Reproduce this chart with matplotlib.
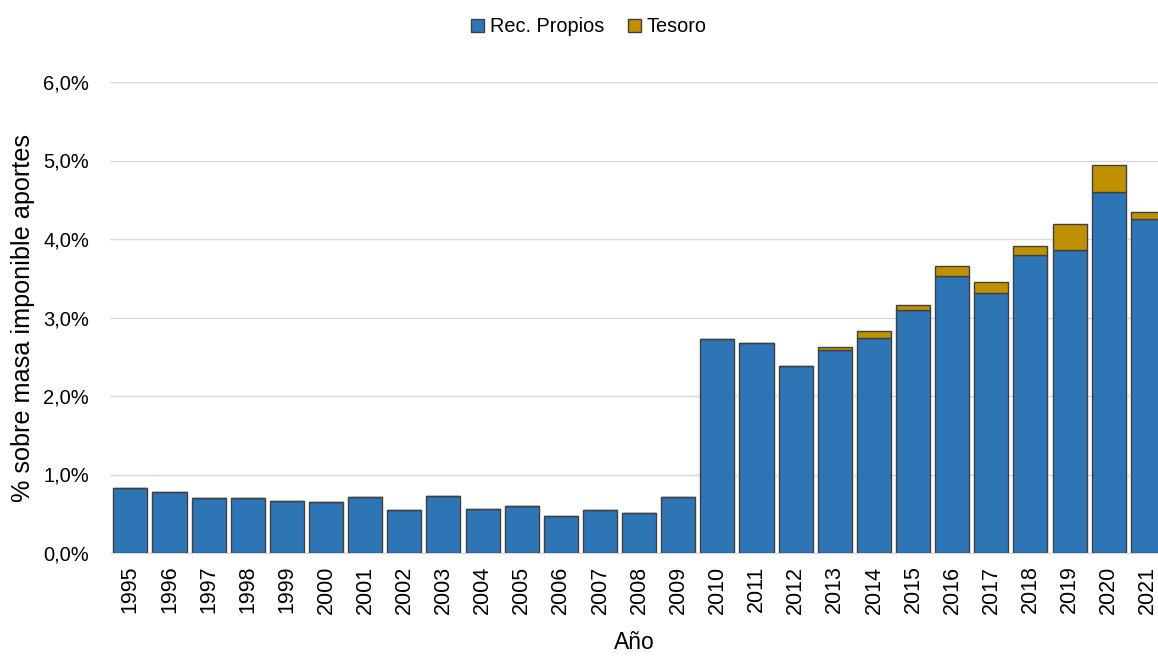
import numpy as np
import matplotlib.pyplot as plt
from matplotlib.ticker import FuncFormatter

years = list(range(1995, 2022))
rec_propios = [0.83, 0.78, 0.70, 0.70, 0.66, 0.65, 0.71, 0.55, 0.73, 0.56,
               0.60, 0.47, 0.55, 0.51, 0.71, 2.73, 2.68, 2.38, 2.59, 2.74,
               3.10, 3.53, 3.31, 3.80, 3.86, 4.60, 4.25]
tesoro = [0, 0, 0, 0, 0, 0, 0, 0, 0, 0,
          0, 0, 0, 0, 0, 0, 0, 0, 0.03, 0.09,
          0.06, 0.13, 0.14, 0.11, 0.33, 0.34, 0.10]

plt.rcParams['font.family'] = ['Liberation Sans', 'DejaVu Sans']

fig = plt.figure(figsize=(11.58, 6.57), dpi=100)
ax = fig.add_axes([110 / 1158, 104 / 657, 1 - 110 / 1158, 471 / 657])

x = np.arange(len(years))
edge = '#404040'
ax.bar(x, rec_propios, width=0.87, color='#2E75B6', edgecolor=edge, linewidth=1,
       label='Rec. Propios', zorder=3)
ax.bar(x, tesoro, width=0.87, bottom=rec_propios, color='#BF9000', edgecolor=edge,
       linewidth=1, label='Tesoro', zorder=3)

ax.set_xlim(-0.52, 26.26)
ax.set_ylim(0, 6)
ax.set_yticks(np.arange(0, 7, 1))
ax.yaxis.set_major_formatter(FuncFormatter(lambda v, p: f"{v:.1f}%".replace('.', ',')))
ax.grid(axis='y', color='#d9d9d9', linewidth=1, zorder=0)
ax.set_xticks(x)
ax.set_xticklabels([str(y) for y in years], rotation=90, fontsize=15.5)
ax.tick_params(axis='y', labelsize=14.5, length=0, pad=15)
ax.tick_params(axis='x', length=0, pad=9)
for s in ['top', 'right', 'left']:
    ax.spines[s].set_visible(False)
ax.spines['bottom'].set_color('#d9d9d9')

ax.set_ylabel('% sobre masa imponible aportes', fontsize=18.2, labelpad=6)
ax.set_xlabel('Año', fontsize=16.5, labelpad=12)

fig.legend(loc='center', bbox_to_anchor=(589 / 1158, 1 - 27 / 657), ncol=2,
           frameon=False, fontsize=14.3, handlelength=0.65, handleheight=0.65,
           handletextpad=0.3, columnspacing=1.2)

fig.savefig('out.png', dpi=100)
